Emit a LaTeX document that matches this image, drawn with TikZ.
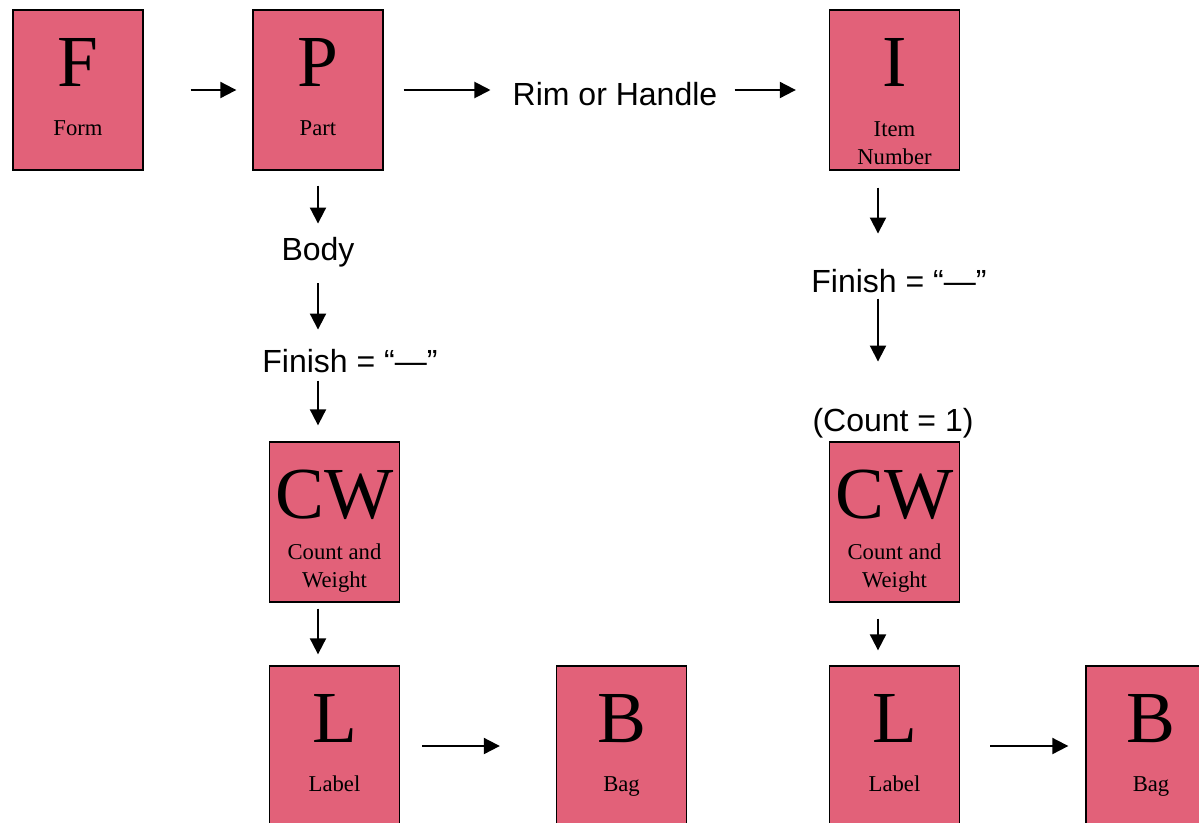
\documentclass[tikz,border=0pt]{standalone}
\usepackage{fontspec}
\setmainfont{Liberation Serif}
\newfontfamily\flowsans{Liberation Sans}
\usetikzlibrary{calc,arrows.meta}
\definecolor{boxrose}{RGB}{226,97,121}
\tikzset{
  pbox/.style={rectangle, draw=black, fill=boxrose, line width=1pt,
               minimum width=97.5pt, minimum height=120pt, inner sep=0pt},
  pletter/.style={anchor=base, inner sep=0pt, font=\fontsize{55}{55}\selectfont},
  plabel/.style={anchor=base, inner sep=0pt, align=center,
                 font=\fontsize{17}{21}\selectfont},
  ftext/.style={anchor=base, inner sep=0pt, font=\flowsans\fontsize{24}{28}\selectfont},
  flow/.style={-{Triangle[length=12pt,width=12pt]}, line width=1.5pt},
}
\begin{document}
\begin{tikzpicture}[x=0.75pt,y=-0.75pt]
  \useasboundingbox (0,0) rectangle (1199,822);
  \foreach \nm/\px/\py/\ltr/\lbl/\lby in {
      F/78/90/F/Form/126, P/318/90/P/Part/126, I/894.5/90/I/{Item\\Number}/155,
      CWa/334.5/522/CW/{Count and\\Weight}/146, CWb/894.5/522/CW/{Count and\\Weight}/146,
      La/334.5/746/L/Label/126, Ba/621.5/746/B/Bag/126,
      Lb/894.5/746/L/Label/126, Bb/1151/746/B/Bag/126} {
    \node[pbox] (\nm) at (\px,\py) {};
    \node[pletter] (\nm-ltr) at ($(\nm.north)+(0,77)$) {\ltr};
    \node[plabel] (\nm-lbl) at ($(\nm.north)+(0,\lby)$) {\lbl};
  }
  \node[ftext] (rim) at (615,105) {Rim or Handle};
  \node[ftext] (body) at (318,260) {Body};
  \node[ftext] (finA) at (350,372) {Finish = “—”};
  \node[ftext] (finB) at (899,292) {Finish = “—”};
  \node[ftext] (count) at (893,431) {(Count = 1)};
  \coordinate (spineA) at (318,0);
  \coordinate (spineB) at (878,0);
  \draw[flow, shorten <=35.25pt, shorten >=12pt] (F) -- (P);
  \draw[flow, shorten <=15pt, shorten >=16.5pt] (P.east) -- (P.east -| rim.west);
  \draw[flow, shorten <=12.75pt, shorten >=24.75pt] (I.west -| rim.east) -- (I.west);
  \draw[flow, shorten <=11.25pt, shorten >=9.75pt] (spineA |- P.south) -- (spineA |- body.north);
  \draw[flow, shorten <=12.2pt, shorten >=14.25pt] (spineA |- body.south) -- (spineA |- finA.north);
  \draw[flow, shorten <=6pt, shorten >=12pt] (spineA |- finA.south) -- (spineA |- CWa.north);
  \draw[flow, shorten <=4.5pt, shorten >=8.25pt] (spineA |- CWa.south) -- (spineA |- La.north);
  \draw[flow, shorten <=16.5pt, shorten >=42pt] (La) -- (Ba);
  \draw[flow, shorten <=12.75pt, shorten >=26.25pt] (spineB |- I.south) -- (spineB |- finB.north);
  \draw[flow, shorten <=4.5pt, shorten >=34.5pt] (spineB |- finB.south) -- (spineB |- count.north);
  \draw[flow, shorten <=12pt, shorten >=11.25pt] (spineB |- CWb.south) -- (spineB |- Lb.north);
  \draw[flow, shorten <=22.5pt, shorten >=12.75pt] (Lb) -- (Bb);
\end{tikzpicture}
\end{document}
